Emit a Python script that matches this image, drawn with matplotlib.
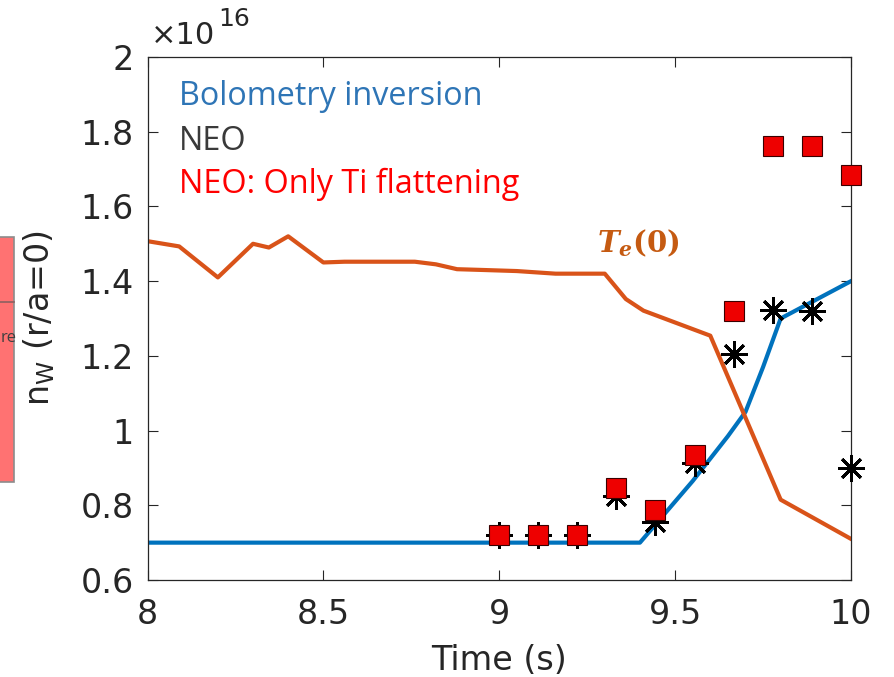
import matplotlib
matplotlib.use("Agg")
import matplotlib.pyplot as plt
from matplotlib.patches import Rectangle
import numpy as np

plt.rcParams['font.family'] = ['DejaVu Sans']
# mathtext: sans for labels, serif bold italic for the Te(0) tag
plt.rcParams['mathtext.fontset'] = 'custom'
plt.rcParams['mathtext.rm'] = 'DejaVu Sans'
plt.rcParams['mathtext.it'] = 'DejaVu Serif:italic:bold'
plt.rcParams['mathtext.bf'] = 'DejaVu Serif:bold'

BLUE = "#0072BD"
ORANGE = "#D95319"
AXCOL = "#262626"

# Data (n_W in units of 1e16)
t_bolo = [8.0, 9.40, 9.45, 9.50, 9.55, 9.60, 9.65, 9.70, 9.75, 9.80, 9.90, 10.0]
n_bolo = [0.70, 0.70, 0.755, 0.81, 0.865, 0.925, 0.985, 1.05, 1.17, 1.30, 1.35, 1.40]

t_te = [8.0, 8.09, 8.2, 8.3, 8.345, 8.40, 8.50, 8.56, 8.76, 8.82, 8.88, 8.95,
        9.05, 9.16, 9.30, 9.36, 9.41, 9.60, 9.80, 10.0]
te_scaled = [1.507, 1.493, 1.41, 1.50, 1.49, 1.52, 1.45, 1.452, 1.452, 1.445, 1.432, 1.43,
             1.427, 1.42, 1.42, 1.352, 1.321, 1.254, 0.815, 0.71]

t_neo = [9.0, 9.111, 9.222, 9.333, 9.444, 9.556, 9.667, 9.778, 9.889, 10.0]
n_neo = [0.72, 0.72, 0.72, 0.825, 0.755, 0.914, 1.205, 1.322, 1.321, 0.899]
n_neo_ti = [0.72, 0.72, 0.72, 0.847, 0.787, 0.934, 1.321, 1.762, 1.762, 1.683]

fig = plt.figure(figsize=(8.94, 6.77), dpi=100, facecolor="white")

# leftover slide box at the left edge
fig.patches.append(Rectangle((-0.01, 195/677), 0.01 + 14/894, 245/677, transform=fig.transFigure,
                             facecolor="#FF7272", edgecolor="#8c8c8c", lw=1.2, zorder=0))
fig.lines.append(plt.Line2D([0, 14/894], [375/677, 375/677], transform=fig.transFigure,
                            color="#8c6060", lw=1.2))
fig.text(0.001, 339/677, "re", fontsize=12, color="#404040", ha="left", va="center",
         family="Open Sans")

ax = fig.add_axes([147.5/894, 97/677, 703.5/894, 523/677])

ax.plot(t_bolo, n_bolo, color=BLUE, lw=3.0, zorder=2)
ax.plot(t_te, te_scaled, color=ORANGE, lw=3.0, zorder=2)
ax.plot(t_neo, n_neo, ls="none", marker=(8, 2, 0), ms=19, mew=2.1, color="black", zorder=3,
        clip_on=False)
ax.plot(t_neo, n_neo_ti, ls="none", marker="s", ms=15, mfc="#EE0000", mec="#3a0000",
        mew=0.8, zorder=4, clip_on=False)

ax.set_xlim(8, 10)
ax.set_ylim(0.6, 2.0)
ax.set_xticks([8, 8.5, 9, 9.5, 10])
ax.set_xticklabels(["8", "8.5", "9", "9.5", "10"])
ax.set_yticks([0.6, 0.8, 1.0, 1.2, 1.4, 1.6, 1.8, 2.0])
ax.set_yticklabels(["0.6", "0.8", "1", "1.2", "1.4", "1.6", "1.8", "2"])
ax.tick_params(direction="in", length=7, width=0.8, colors=AXCOL, labelsize=24,
               top=True, right=True)
ax.tick_params(axis="x", pad=13)
ax.tick_params(axis="y", pad=10)
for s in ax.spines.values():
    s.set_color(AXCOL)
    s.set_linewidth(0.9)

ax.set_xlabel("Time (s)", fontsize=24, color=AXCOL, labelpad=9)
ax.set_ylabel(r"n$_\mathrm{W}$ (r/a=0)", fontsize=24, color=AXCOL)
ax.yaxis.set_label_coords(-0.128, 0.5)

# MATLAB-style exponent label
ax.text(0.005, 1.014, "\u00d710", transform=ax.transAxes, fontsize=22, color=AXCOL,
        ha="left", va="bottom")
ax.text(0.1, 1.05, "16", transform=ax.transAxes, fontsize=18, color=AXCOL,
        ha="left", va="bottom")

# in-plot legend text
ax.text(8.09, 1.871, "Bolometry inversion", color="#2E75B6", fontsize=23.3, family="Open Sans",
        ha="left", va="baseline")
ax.text(8.09, 1.751, "NEO", color="#3a3a3a", fontsize=23.3, family="Open Sans",
        ha="left", va="baseline")
ax.text(8.09, 1.636, "NEO: Only Ti flattening", color="#FF0000", fontsize=23.3,
        family="Open Sans", ha="left", va="baseline")
ax.text(9.278, 1.478, r"$\mathit{T}_{\mathit{e}}\mathbf{(0)}$", color="#C55A11", fontsize=21,
        ha="left", va="baseline")

fig.savefig("out.png", dpi=100, facecolor="white")
